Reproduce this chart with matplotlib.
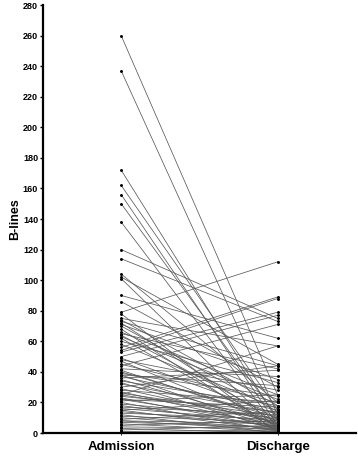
import matplotlib.pyplot as plt

plt.rcParams['font.family'] = ['Liberation Sans', 'DejaVu Sans']

# B-lines per patient at admission and at discharge (paired)
admission = [260, 237, 172, 162, 156, 150, 138, 120, 114, 104, 102, 101, 90, 86,
             79, 78, 75, 74, 73, 72, 71, 70, 68, 66, 65, 64, 63, 62, 60, 58,
             56, 54, 53, 50, 49, 48, 47, 45, 44, 42, 41, 40, 39, 38, 38, 37,
             36, 35, 34, 33, 32, 30, 29, 28, 27, 26, 25, 25, 24, 23, 22, 22,
             21, 20, 19, 18, 17, 16, 15, 15, 14, 13, 12, 11, 10, 9, 8, 8,
             7, 6, 5, 4, 3, 2, 1, 0, 0]
discharge = [25, 12, 8, 15, 5, 10, 3, 75, 73, 20, 45, 2, 62, 30,
             112, 0, 57, 18, 44, 6, 35, 14, 1, 25, 42, 9, 22, 4, 33, 16,
             89, 88, 79, 77, 12, 28, 5, 20, 71, 37, 8, 10, 24, 3, 31, 15,
             41, 6, 18, 2, 13, 44, 7, 20, 4, 11, 57, 9, 14, 3, 17, 6,
             25, 1, 10, 4, 12, 8, 2, 21, 5, 9, 0, 7, 3, 14, 6, 2,
             4, 1, 8, 3, 0, 5, 2, 1, 0]
groups = ['Admission', 'Discharge']

fig = plt.figure(figsize=(3.58, 4.59), dpi=100)
ax = fig.add_axes([0.12, 0.0566, 0.874, 0.9324])

# one line per patient
for a, d in zip(admission, discharge):
    ax.plot([0, 1], [a, d], color='0.35', lw=0.55, marker='o', markersize=1.1,
            markerfacecolor='black', markeredgecolor='black')

ax.set_xlim(-0.5, 1.5)
ax.set_ylim(0, 280)
ax.set_yticks(range(0, 281, 20))
ax.set_xticks([0, 1])
ax.set_xticklabels(groups, fontsize=9.5, fontweight='bold')
ax.set_ylabel('B-lines', fontsize=9, fontweight='bold', labelpad=1)

for lab in ax.get_yticklabels():
    lab.set_fontsize(6.5)
    lab.set_fontweight('bold')

ax.spines['top'].set_visible(False)
ax.spines['right'].set_visible(False)
ax.spines['left'].set_linewidth(1.6)
ax.spines['bottom'].set_linewidth(1.6)
ax.tick_params(axis='y', length=2.5, width=1, pad=1)
ax.tick_params(axis='x', length=1.5, width=0.6, pad=4)

plt.savefig('out.png', dpi=100)
